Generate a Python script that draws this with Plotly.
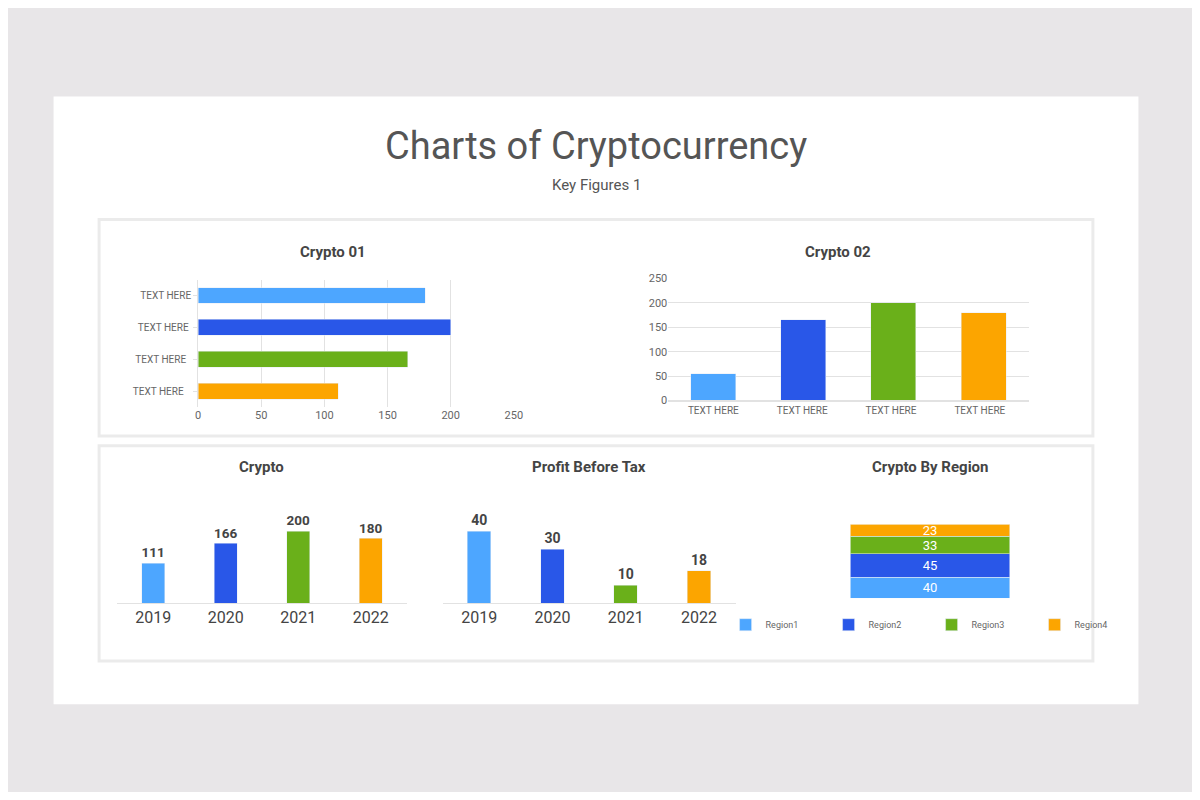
import plotly.graph_objects as go

colors = ['#4da6ff', '#2957e8', '#6ab01a', '#fca500']

# Crypto 01 (horizontal, top to bottom)
c01_labels = ['TEXT HERE', 'TEXT HERE ', 'TEXT HERE  ', 'TEXT HERE   ']
c01_values = [180, 200, 166, 111]

# Crypto 02
c02_labels = ['TEXT HERE', 'TEXT HERE ', 'TEXT HERE  ', 'TEXT HERE   ']
c02_values = [55, 165, 200, 180]

years = ['2019', '2020', '2021', '2022']
crypto_values = [111, 166, 200, 180]
profit_values = [40, 30, 10, 18]

regions = ['Region1', 'Region2', 'Region3', 'Region4']
region_values = [40, 45, 33, 23]

W, H = 1184, 784  # page body has an 8px margin


def px(x):
    return (x - 8) / W


def py(y):
    return 1 - (y - 8) / H


fig = go.Figure()

# Crypto 01
fig.add_trace(go.Bar(
    x=c01_values[::-1], y=c01_labels[::-1], orientation='h',
    marker=dict(color=colors[::-1]), width=0.5,
    xaxis='x', yaxis='y', showlegend=False))

# Crypto 02
fig.add_trace(go.Bar(
    x=c02_labels, y=c02_values, marker=dict(color=colors), width=0.5,
    xaxis='x2', yaxis='y2', showlegend=False))

# Crypto
fig.add_trace(go.Bar(
    x=years, y=crypto_values, marker=dict(color=colors), width=0.32,
    text=crypto_values, textposition='outside',
    textfont=dict(size=14, color='#444', family='Roboto', weight='bold'),
    cliponaxis=False, xaxis='x3', yaxis='y3', showlegend=False))

# Profit Before Tax
fig.add_trace(go.Bar(
    x=years, y=profit_values, marker=dict(color=colors), width=0.32,
    text=profit_values, textposition='outside',
    textfont=dict(size=14, color='#444', family='Roboto', weight='bold'),
    cliponaxis=False, xaxis='x4', yaxis='y4', showlegend=False))

# Crypto By Region
for name, val, col in zip(regions, region_values, colors):
    fig.add_trace(go.Bar(
        x=['All'], y=[val], name=name, marker=dict(color=col), width=1,
        text=[val], textposition='inside', insidetextanchor='middle', textangle=0,
        insidetextfont=dict(size=13, color='white', family='Roboto'),
        constraintext='none', xaxis='x5', yaxis='y5'))

grid = '#e2e2e2'
tick = dict(size=11, color='#666', family='Roboto')

shapes = [
    dict(type='rect', xref='paper', yref='paper', x0=px(51), x1=px(1147), y0=py(710), y1=py(92),
         fillcolor='white', line=dict(width=0), layer='below'),
    dict(type='rect', xref='paper', yref='paper', x0=px(97), x1=px(1101), y0=py(437), y1=py(217),
         fillcolor='white', line=dict(color='#ebebeb', width=3), layer='below'),
    dict(type='rect', xref='paper', yref='paper', x0=px(97), x1=px(1101), y0=py(666), y1=py(447),
         fillcolor='white', line=dict(color='#ebebeb', width=3), layer='below'),
]

annotations = [
    dict(text='Charts of Cryptocurrency', x=px(599), y=py(142), font=dict(size=38, color='#555')),
    dict(text='Key Figures 1', x=px(599), y=py(182), font=dict(size=15, color='#555')),
    dict(text='<b>Crypto 01</b>', x=px(333), y=py(250), font=dict(size=15, color='#444')),
    dict(text='<b>Crypto 02</b>', x=px(843), y=py(250), font=dict(size=15, color='#444')),
    dict(text='<b>Crypto</b>', x=px(261), y=py(469), font=dict(size=15, color='#444')),
    dict(text='<b>Profit Before Tax</b>', x=px(592), y=py(469), font=dict(size=15, color='#444')),
    dict(text='<b>Crypto By Region</b>', x=px(936), y=py(469), font=dict(size=15, color='#444')),
]
for a in annotations:
    a.update(xref='paper', yref='paper', showarrow=False, xanchor='center', yanchor='middle')

fig.update_layout(
    width=W, height=H, margin=dict(l=0, r=0, t=0, b=0),
    paper_bgcolor='#e8e6e8', plot_bgcolor='rgba(0,0,0,0)',
    font=dict(family='Roboto', color='#555'),
    shapes=shapes, annotations=annotations, barmode='stack',
    xaxis=dict(domain=[px(197), px(516)], range=[0, 250], dtick=50, showgrid=True, gridcolor=grid,
               zeroline=False, tickfont=tick, anchor='y'),
    yaxis=dict(domain=[py(408), py(278)], tickfont=dict(size=10, color='#666'), anchor='x',
               showline=True, linecolor=grid, ticks='outside', tickcolor=grid, ticklen=4),
    xaxis2=dict(domain=[px(672), px(1036)], tickfont=dict(size=10, color='#666'), anchor='y2',
                showline=True, linecolor=grid, linewidth=2),
    yaxis2=dict(domain=[py(401), py(277)], range=[0, 250], dtick=50, gridcolor=grid,
                zeroline=False, tickfont=tick, anchor='x2'),
    xaxis3=dict(domain=[px(115), px(408)], tickfont=dict(size=16, color='#444'), anchor='y3',
                showline=True, linecolor=grid),
    yaxis3=dict(domain=[py(607), py(500)], range=[0, 293], visible=False, anchor='x3'),
    xaxis4=dict(domain=[px(444), px(740)], tickfont=dict(size=16, color='#444'), anchor='y4',
                showline=True, linecolor=grid),
    yaxis4=dict(domain=[py(607), py(500)], range=[0, 58.6], visible=False, anchor='x4'),
    xaxis5=dict(domain=[px(856), px(1017)], visible=False, anchor='y5'),
    yaxis5=dict(domain=[py(602), py(527)], range=[0, 141], visible=False, anchor='x5'),
    legend=dict(orientation='h', x=px(938), y=py(629), xanchor='center', yanchor='middle',
                font=dict(size=9, color='#666'), traceorder='normal', itemwidth=30,
                entrywidth=58, bgcolor='rgba(0,0,0,0)'),
)

fig.write_html('out.html')
